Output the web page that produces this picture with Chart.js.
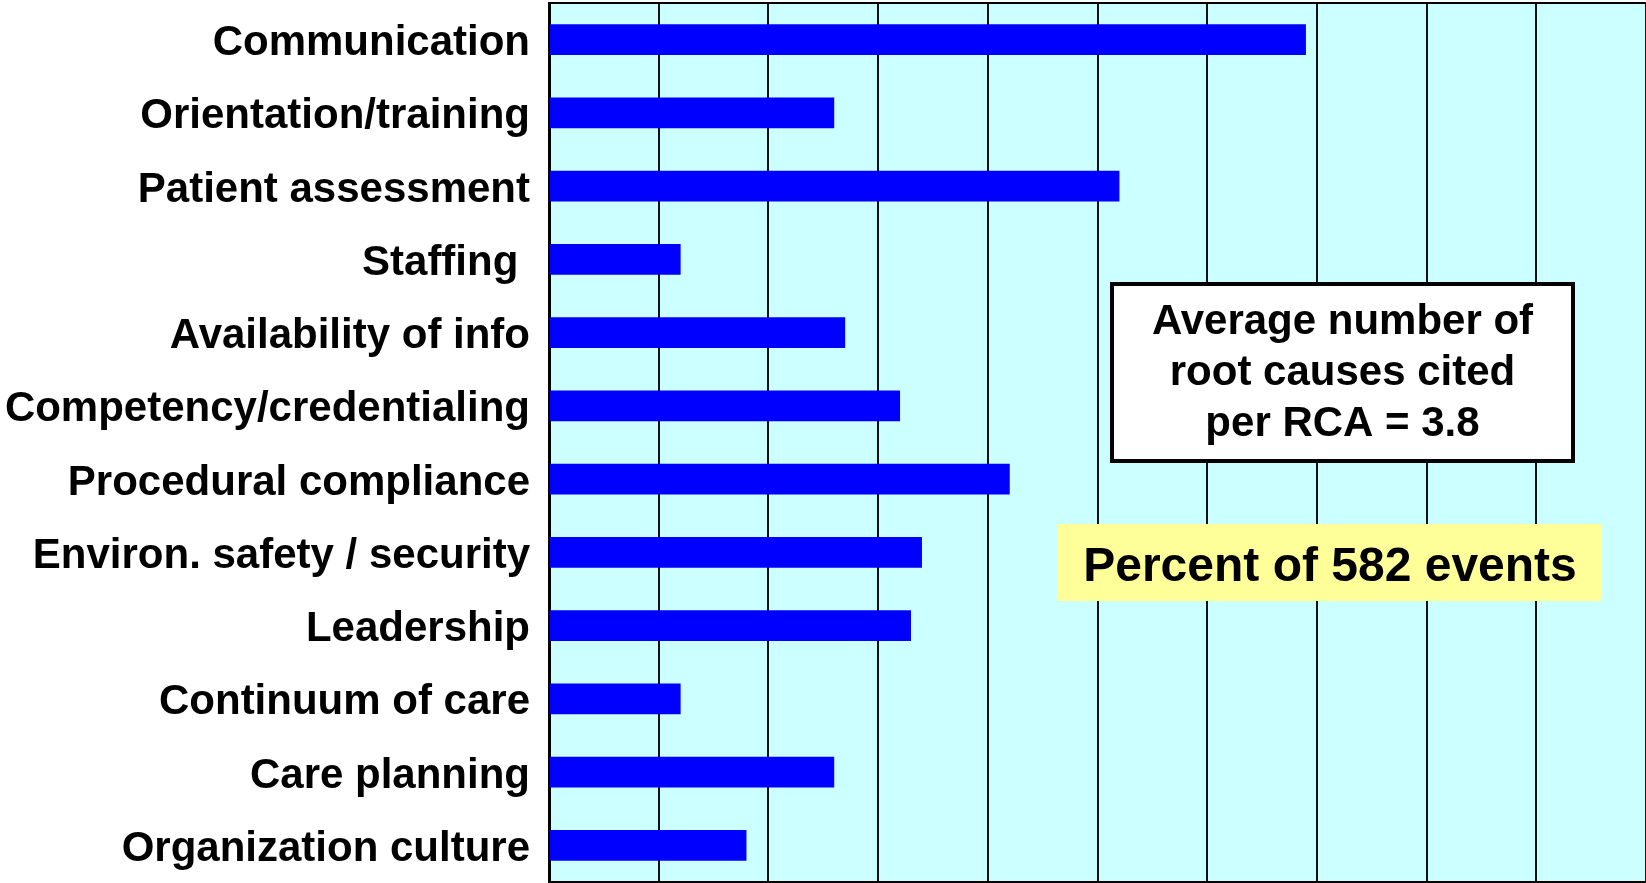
<!DOCTYPE html>
<html>
<head>
<meta charset="utf-8">
<script src="https://cdn.jsdelivr.net/npm/chart.js@4/dist/chart.umd.min.js"></script>
<style>
  html, body { margin: 0; padding: 0; background: #ffffff; }
  #wrap { width: 1646px; height: 883px; position: relative; }
</style>
</head>
<body>
<div id="wrap"><canvas id="c" width="1646" height="883"></canvas></div>
<script>
const categories = [
  "Communication",
  "Orientation/training",
  "Patient assessment",
  "Staffing ",
  "Availability of info",
  "Competency/credentialing",
  "Procedural compliance",
  "Environ. safety / security",
  "Leadership",
  "Continuum of care",
  "Care planning",
  "Organization culture"
];
const percentOfEvents = [69, 26, 52, 12, 27, 32, 42, 34, 33, 12, 26, 18];
const xTicks = [0, 10, 20, 30, 40, 50, 60, 70, 80, 90, 100];
const noteLines = ["Average number of", "root causes cited", "per RCA = 3.8"];
const unitLabel = "Percent of 582 events";

const FONT = '"Liberation Sans", Arial, Helvetica, sans-serif';

const plotFrame = {
  id: 'plotFrame',
  beforeDraw(chart) {
    const {ctx, chartArea: a} = chart;
    ctx.save();
    ctx.fillStyle = '#CCFFFF';
    ctx.fillRect(a.left, a.top, a.right - a.left, a.bottom - a.top);
    ctx.restore();
  },
  afterDatasetsDraw(chart) {
    const {ctx, chartArea: a} = chart;
    ctx.save();
    ctx.strokeStyle = '#000';
    ctx.lineWidth = 2;
    ctx.beginPath();
    ctx.moveTo(a.left, a.top);
    ctx.lineTo(a.right, a.top);
    ctx.stroke();

    // note box
    const bx = 1112, by = 284, bw = 461, bh = 177;
    ctx.fillStyle = '#ffffff';
    ctx.fillRect(bx, by, bw, bh);
    ctx.lineWidth = 4;
    ctx.strokeStyle = '#000';
    ctx.strokeRect(bx, by, bw, bh);
    ctx.fillStyle = '#000';
    ctx.font = 'bold 42px ' + FONT;
    ctx.textAlign = 'center';
    ctx.textBaseline = 'alphabetic';
    const cx = bx + bw / 2;
    noteLines.forEach((t, i) => ctx.fillText(t, cx, 334 + i * 51));

    // yellow label
    const yx = 1058, yy = 524, yw = 544, yh = 77;
    ctx.fillStyle = '#FFFF99';
    ctx.fillRect(yx, yy, yw, yh);
    ctx.fillStyle = '#000';
    ctx.font = 'bold 48px ' + FONT;
    ctx.fillText(unitLabel, yx + yw / 2, 581);
    ctx.restore();
  }
};

new Chart(document.getElementById('c'), {
  type: 'bar',
  data: {
    labels: categories,
    datasets: [{
      data: percentOfEvents,
      backgroundColor: '#0000FF',
      borderWidth: 0,
      categoryPercentage: 1.0,
      barPercentage: 0.423
    }]
  },
  options: {
    indexAxis: 'y',
    responsive: false,
    devicePixelRatio: 1,
    animation: false,
    layout: { padding: { top: 3, right: 0, bottom: 1, left: 0 } },
    plugins: { legend: { display: false }, tooltip: { enabled: false } },
    scales: {
      x: {
        min: xTicks[0],
        max: xTicks[xTicks.length - 1],
        afterBuildTicks(scale) { scale.ticks = xTicks.map(v => ({ value: v })); },
        afterFit(scale) { scale.height = 0; scale.paddingLeft = 0; scale.paddingRight = 0; },
        ticks: { display: false },
        grid: { color: '#111', lineWidth: 2, drawTicks: false },
        border: { color: '#000', width: 2 }
      },
      y: {
        afterFit(scale) { scale.width = 549; scale.paddingTop = 0; scale.paddingBottom = 0; },
        ticks: {
          color: '#000',
          padding: 19,
          labelOffset: 4,
          font: { family: FONT, size: 42, weight: 'bold' }
        },
        grid: { display: false, drawTicks: false },
        border: { color: '#000', width: 3 }
      }
    }
  },
  plugins: [plotFrame]
});
</script>
</body>
</html>
